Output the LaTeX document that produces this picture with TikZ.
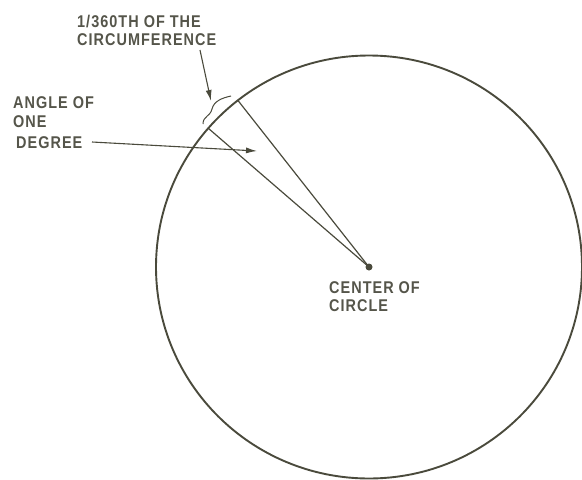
\documentclass[tikz,border=0pt]{standalone}
\usepackage{fontspec}
\setmainfont{Liberation Sans}
\usetikzlibrary{arrows.meta}
\definecolor{ink}{HTML}{4A4A3C}
\definecolor{txt}{HTML}{55554A}
\begin{document}
\begin{tikzpicture}[x=1pt,y=-1pt,
  lbl/.style={anchor=base west, inner sep=0pt, text=txt,
    font=\fontsize{17}{18}\selectfont\bfseries\addfontfeature{FakeStretch=0.85,LetterSpace=6}},
  rim/.style={draw=ink, line width=1.9pt},
  ray/.style={draw=ink, line width=1.2pt},
  arr/.style={draw=ink, line width=1.1pt, -{Latex[length=11pt,width=6pt]}},
  dot/.style={circle, fill=ink, inner sep=0pt, minimum size=7pt}]
\useasboundingbox (0,0) rectangle (582,480);
% centre and circle
\node[dot] (c) at (369,267) {};
\draw[rim] (c.center) ellipse [x radius=213, y radius=211.5];
% radii
\draw[ray] (c.center) -- ++(231.8:212) coordinate (p1);
\draw[ray] (c.center) -- ++(220.8:212) coordinate (p2);
% brace over the arc
\draw[ray, line width=1pt] (203,124) .. controls (203,116) and (210,117) .. (212,109)
   .. controls (214,101) and (222,98) .. (231,96);
% labels
\node[lbl] (t1) at (77,27.5) {1/360TH OF THE};
\node[lbl] (t2) at (77,45.5) {CIRCUMFERENCE};
\node[lbl] (t3) at (13,108) {ANGLE OF};
\node[lbl] (t4) at (13,127.5) {ONE};
\node[lbl] (t5) at (16,148.5) {DEGREE};
\node[lbl] (t6) at (329,293) {CENTER OF};
\node[lbl] (t7) at (329,311) {CIRCLE};
% arrows
\coordinate (a1s) at (200,50);
\coordinate (a1e) at (211,101);
\draw[arr] (a1s) -- (a1e);
\coordinate (a2s) at (92,142);
\coordinate (a2e) at (257,151);
\draw[arr] (a2s) -- (a2e);
\end{tikzpicture}
\end{document}
